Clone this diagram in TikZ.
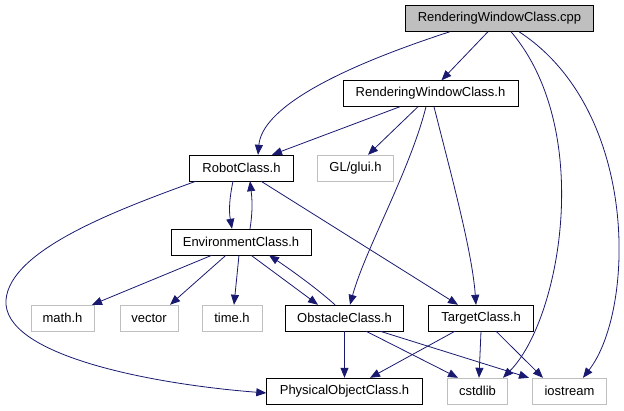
\documentclass[tikz,border=0pt]{standalone}
\usepackage{fontspec}
\setmainfont{Liberation Sans}
\usepackage{xcolor}
\usepackage{tikz}
\usetikzlibrary{arrows.meta}
\definecolor{edgeblue}{HTML}{191970}
\definecolor{extgrey}{HTML}{BFBFBF}
\tikzset{
  file/.style={draw=black,minimum height=26pt,inner sep=0pt,font=\fontsize{13}{15}\selectfont},
  ext/.style={file,draw=extgrey},
  top/.style={file,fill=extgrey},
  arr/.style={-{Triangle[length=10pt,width=8pt]},draw=edgeblue,line width=0.8pt},
}

\begin{document}
\begin{tikzpicture}[x=1pt,y=-1pt]
\useasboundingbox (0,0) rectangle (624,411);
% files
\node[top, minimum width=188pt] (cpp) at (499.5,18.5) {RenderingWindowClass.cpp};
\node[file, minimum width=175pt] (rwh) at (430.5,93.5) {RenderingWindowClass.h};
\node[file, minimum width=104pt] (robot) at (241.5,168) {RobotClass.h};
\node[ext, minimum width=76pt] (glui) at (355.5,168) {GL/glui.h};
\node[file, minimum width=140pt] (env) at (241,242) {EnvironmentClass.h};
\node[ext, minimum width=63pt] (math) at (62.5,318) {math.h};
\node[ext, minimum width=58pt] (vector) at (149,318) {vector};
\node[ext, minimum width=60pt] (time) at (232,318) {time.h};
\node[file, minimum width=118pt] (obst) at (344.5,318) {ObstacleClass.h};
\node[file, minimum width=105pt] (target) at (481,318) {TargetClass.h};
\node[file, minimum width=156pt] (phys) at (344.5,391) {PhysicalObjectClass.h};
\node[ext, minimum width=60pt] (cstdlib) at (477.5,391) {cstdlib};
\node[ext, minimum width=74pt] (iostream) at (569.5,391) {iostream};

% includes of the cpp
\draw[arr] ([xshift=-11.5pt]cpp.south) -- ([xshift=11pt]rwh.north);
\draw[arr] ([xshift=-49.5pt]cpp.south) .. controls +(-120,39) and +(4,-45) .. ([xshift=16.5pt]robot.north);
\draw[arr] ([xshift=11.5pt]cpp.south) .. controls +(84,99) and +(57,-57) .. ([xshift=25.5pt]cstdlib.north);
\draw[arr] ([xshift=19.5pt]cpp.south) .. controls +(121,79) and +(52,-67) .. ([xshift=13.5pt]iostream.north);

% includes of the header
\draw[arr] ([xshift=-30.5pt]rwh.south) -- ([xshift=30.5pt]robot.north);
\draw[arr] ([xshift=-12.5pt]rwh.south) -- ([xshift=12.5pt]glui.north);
\draw[arr] ([xshift=-4.5pt]rwh.south) .. controls +(-16,64) and +(15,-55) .. ([xshift=5.5pt]obst.north);
\draw[arr] ([xshift=3.5pt]rwh.south) .. controls +(16,64) and +(-4,-55) .. ([xshift=-5pt]target.north);

% robot and environment
\draw[arr] ([xshift=-8.5pt]robot.south) .. controls +(-4,19) and +(-3,-17) .. ([xshift=-9pt]env.north);
\draw[arr] ([xshift=9pt]env.north) .. controls +(3,-19) and +(2,17) .. ([xshift=8.5pt]robot.south);
\draw[arr] ([xshift=-45.5pt]robot.south) .. controls +(-80,29) and +(4,-50) .. (6,300)
  .. controls +(-4,55) and +(-116,-9) .. ([yshift=-2pt]phys.west);
\draw[arr] ([xshift=19.5pt]robot.south) -- ([xshift=-23pt]target.north);
\draw[arr] ([xshift=-29pt]env.south) -- ([xshift=29.5pt]math.north);
\draw[arr] ([xshift=-15pt]env.south) -- ([xshift=21pt]vector.north);
\draw[arr] ([xshift=-2pt]env.south) -- ([xshift=2pt]time.north);
\draw[arr] ([xshift=10pt]env.south) -- ([xshift=-26.5pt]obst.north);
\draw[arr] ([xshift=-9.5pt]obst.north) .. controls +(-20,-18) and +(18,12) .. ([xshift=28pt]env.south);

% obstacle and target
\draw[arr] (obst.south) -- (phys.north);
\draw[arr] ([xshift=21.5pt]obst.south) -- ([xshift=-19.5pt]cstdlib.north);
\draw[arr] ([xshift=35.5pt]obst.south) -- ([xshift=-40.5pt]iostream.north);
\draw[arr] ([xshift=-26pt]target.south) -- ([xshift=25.5pt]phys.north);
\draw[arr] (target.south) -- ([xshift=1.5pt]cstdlib.north);
\draw[arr] ([xshift=15pt]target.south) -- ([xshift=-26.5pt]iostream.north);

\end{tikzpicture}
\end{document}
